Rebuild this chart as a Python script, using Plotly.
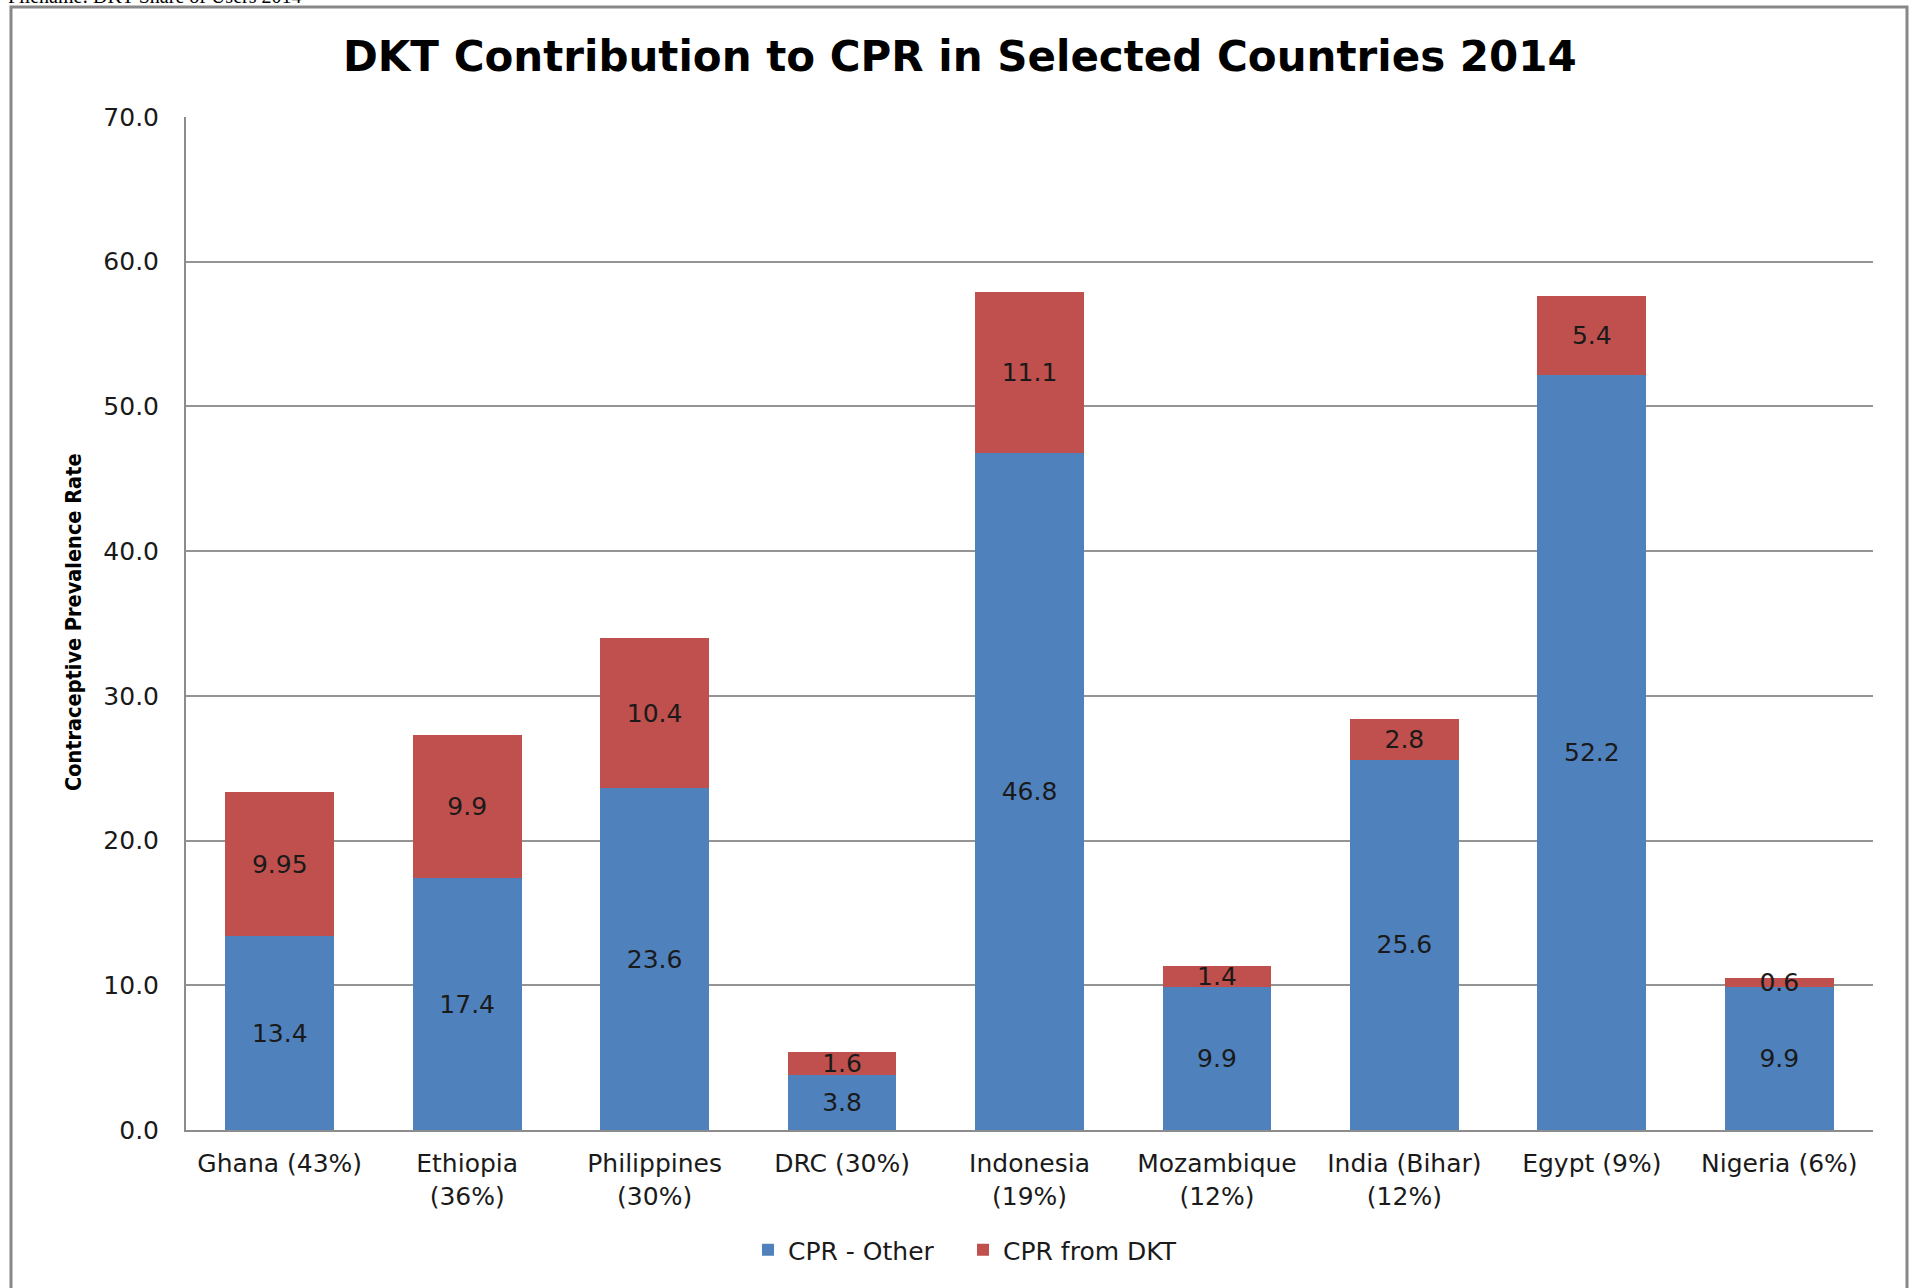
import plotly.graph_objects as go

categories = ["Ghana (43%)", "Ethiopia<br>(36%)", "Philippines<br>(30%)", "DRC (30%)",
              "Indonesia<br>(19%)", "Mozambique<br>(12%)", "India (Bihar)<br>(12%)",
              "Egypt (9%)", "Nigeria (6%)"]
cpr_other = [13.4, 17.4, 23.6, 3.8, 46.8, 9.9, 25.6, 52.2, 9.9]
cpr_dkt = [9.95, 9.9, 10.4, 1.6, 11.1, 1.4, 2.8, 5.4, 0.6]
other_labels = ["13.4", "17.4", "23.6", "3.8", "46.8", "9.9", "25.6", "52.2", "9.9"]
dkt_labels = ["9.95", "9.9", "10.4", "1.6", "11.1", "1.4", "2.8", "5.4", "0.6"]

FONT = "DejaVu Sans"
FS = 25
W, H = 1912, 1288
L, R, T, B = 186, 39, 117, 158
PW, PH = W - L - R, H - T - B

def px_x(p):
    return (p - L) / PW

def px_y(p):
    return (H - B - p) / PH

fig = go.Figure()
fig.add_trace(go.Bar(
    x=categories, y=cpr_other, name="CPR - Other",
    marker=dict(color="#4F81BD", line=dict(width=0)),
    text=other_labels, textposition="inside", insidetextanchor="middle",
    textangle=0, textfont=dict(family=FONT, size=FS, color="#1a1a1a"),
))
fig.add_trace(go.Bar(
    x=categories, y=cpr_dkt, name="CPR from DKT",
    marker=dict(color="#C0504D", line=dict(width=0)),
    text=dkt_labels, textposition="inside", insidetextanchor="middle",
    textangle=0, textfont=dict(family=FONT, size=FS, color="#1a1a1a"),
))

fig.update_layout(
    width=W, height=H,
    margin=dict(l=L, r=R, t=T, b=B),
    barmode="stack", bargap=0.42,
    paper_bgcolor="white", plot_bgcolor="white",
    font=dict(family=FONT, size=FS, color="#1a1a1a"),
    uniformtext=dict(minsize=FS, mode="show"),
    title=dict(text="<b>DKT Contribution to CPR in Selected Countries 2014</b>",
               x=0.502, xref="container", xanchor="center",
               y=1 - 56 / H, yref="container", yanchor="middle",
               font=dict(family=FONT, size=42, color="#000000")),
    showlegend=True,
    legend=dict(orientation="h", x=px_x(963), xanchor="center", y=px_y(1250), yanchor="middle",
                font=dict(family=FONT, size=FS, color="#1a1a1a"), traceorder="normal",
                itemwidth=30, entrywidth=170),
    xaxis=dict(showline=True, linecolor="#8c8c8c", linewidth=2, showgrid=False,
               ticks="", tickfont=dict(family=FONT, size=FS, color="#1a1a1a"),
               ticklabelstandoff=10),
    yaxis=dict(range=[0, 70], dtick=10, tickformat=".1f", showline=True,
               linecolor="#8c8c8c", linewidth=2, showgrid=True, gridcolor="#949494",
               gridwidth=1.5, zeroline=False, ticks="",
               tickfont=dict(family=FONT, size=FS, color="#1a1a1a"),
               ticklabelstandoff=20),
    shapes=[dict(type="rect", xref="paper", yref="paper",
                 x0=px_x(11), x1=px_x(1907), y0=px_y(1340), y1=px_y(7),
                 line=dict(color="#888888", width=3), fillcolor="rgba(0,0,0,0)")],
    annotations=[
        dict(text="<b>Contraceptive Prevalence Rate</b>", xref="paper", yref="paper",
             x=px_x(73), y=px_y(622), xanchor="center", yanchor="middle",
             textangle=-90, showarrow=False,
             font=dict(family="DejaVu Sans Condensed, Liberation Sans Narrow, DejaVu Sans",
                       size=21.5, color="#000000")),
        dict(text="Filename: DKT Share of Users 2014", xref="paper", yref="paper",
             x=px_x(6), y=px_y(9), xanchor="left", yanchor="bottom", showarrow=False,
             font=dict(family="Liberation Serif, Times New Roman, serif", size=20,
                       color="#000000")),
    ],
)

fig.write_html("out.html", config={"displayModeBar": False},
               post_script="document.body.style.margin='0';")
